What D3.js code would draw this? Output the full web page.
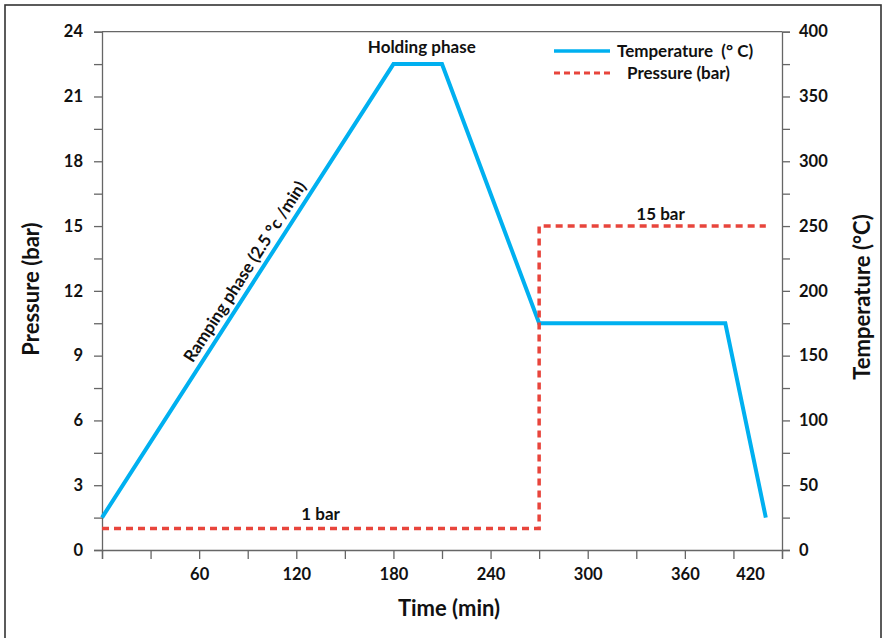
<!DOCTYPE html>
<html>
<head>
<meta charset="utf-8">
<script src="https://cdn.jsdelivr.net/npm/d3@7/dist/d3.min.js"></script>
<style>
  html, body { margin: 0; padding: 0; background: #fff; overflow: hidden; }
  svg { display: block; }
  text { font-family: Lato, "Open Sans", sans-serif; font-weight: 700; fill: #111; white-space: pre; }
</style>
</head>
<body>
<script>
// Process profile: temperature (right axis) and pressure (left axis) versus time
const tempTime   = [0, 180, 210, 270, 385, 410];
const tempValues = [25, 375, 375, 175, 175, 25];
const presTime   = [0, 270, 270, 410];
const presValues = [1, 1, 15, 15];
const timeTicks  = [0, 30, 60, 90, 120, 150, 180, 210, 240, 270, 300, 330, 360, 390, 420];
const timeLabels = [60, 120, 180, 240, 300, 360, 420];
const presTicks  = d3.range(0, 24.01, 1.5);
const presLabels = [0, 3, 6, 9, 12, 15, 18, 21, 24];
const tempTicks  = d3.range(0, 400.01, 25);
const tempLabels = [0, 50, 100, 150, 200, 250, 300, 350, 400];

const W = 884, H = 638;
const plotL = 102, plotR = 782, plotT = 31.7, plotB = 550;
const axisColor = "#666";
const blue = "#00b0f0", red = "#e8453c";
const labelSize = 17, titleSize = 22, tickSize = 16.5;

const svg = d3.select("body").append("svg").attr("width", W).attr("height", H);

// outer frame
svg.append("rect").attr("x", 5).attr("y", 5).attr("width", 876).attr("height", 640)
  .attr("fill", "none").attr("stroke", "#333").attr("stroke-width", 1.6);

const x = d3.scaleLinear().domain([0, 420]).range([plotL, plotR]);
const yP = d3.scaleLinear().domain([0, 24]).range([plotB, plotT]);
const yT = d3.scaleLinear().domain([0, 400]).range([plotB, plotT]);

// top border of plot area
svg.append("line").attr("x1", plotL).attr("x2", plotR).attr("y1", plotT).attr("y2", plotT)
  .attr("stroke", axisColor).attr("stroke-width", 1.3);

function styleAxis(g) {
  g.selectAll(".domain").attr("stroke", axisColor).attr("stroke-width", 1.3);
  g.selectAll(".tick line").attr("stroke", axisColor).attr("stroke-width", 1.3);
  g.selectAll(".tick text").attr("font-size", tickSize).attr("font-family", "Lato, 'Open Sans', sans-serif")
    .attr("font-weight", 700).attr("fill", "#111");
}

// bottom (time) axis
const gx = svg.append("g").attr("transform", `translate(0,${plotB})`)
  .call(d3.axisBottom(x).tickValues(timeTicks).tickSize(9).tickPadding(9)
    .tickFormat(d => timeLabels.includes(d) ? d : ""));
styleAxis(gx);
gx.selectAll(".tick text").filter(d => d === 420).attr("dx", -32);

// left (pressure) axis
const gl = svg.append("g").attr("transform", `translate(${plotL},0)`)
  .call(d3.axisLeft(yP).tickValues(presTicks).tickSize(8).tickPadding(11)
    .tickFormat(d => presLabels.includes(d) ? d : ""));
styleAxis(gl);

// right (temperature) axis
const gr = svg.append("g").attr("transform", `translate(${plotR},0)`)
  .call(d3.axisRight(yT).tickValues(tempTicks).tickSize(8).tickPadding(9)
    .tickFormat(d => tempLabels.includes(d) ? d : ""));
styleAxis(gr);

// series
const tempLine = d3.line().x((d, i) => x(tempTime[i])).y(d => yT(d));
svg.append("path").datum(tempValues).attr("d", tempLine)
  .attr("fill", "none").attr("stroke", blue).attr("stroke-width", 4).attr("stroke-linejoin", "miter");

const presLine = d3.line().x((d, i) => x(presTime[i])).y(d => yP(d));
svg.append("path").datum(presValues).attr("d", presLine)
  .attr("fill", "none").attr("stroke", red).attr("stroke-width", 3.5).attr("stroke-dasharray", "7,5");

// annotations
svg.append("text").attr("x", x(197.5)).attr("y", yT(375) - 11).attr("text-anchor", "middle")
  .attr("font-size", labelSize).text("Holding phase");
svg.append("text").attr("x", x(345)).attr("y", yP(15) - 6).attr("text-anchor", "middle")
  .attr("font-size", labelSize).text("15 bar");
svg.append("text").attr("x", x(135)).attr("y", yP(1) - 8).attr("text-anchor", "middle")
  .attr("font-size", labelSize).text("1 bar");

// label along the ramp
const p0 = [x(tempTime[0]), yT(tempValues[0])], p1 = [x(tempTime[1]), yT(tempValues[1])];
const ang = Math.atan2(p1[1] - p0[1], p1[0] - p0[0]) * 180 / Math.PI;
const mid = [p0[0] + (p1[0] - p0[0]) * 0.527, p0[1] + (p1[1] - p0[1]) * 0.527];
svg.append("text")
  .attr("transform", `translate(${mid[0]},${mid[1]}) rotate(${ang})`)
  .attr("y", -7).attr("text-anchor", "middle").attr("font-size", labelSize)
  .text("Ramping phase (2.5 °c /min)");

// axis titles
svg.append("text").attr("x", 449).attr("y", 616).attr("text-anchor", "middle")
  .attr("font-size", titleSize).text("Time (min)");
svg.append("text").attr("transform", `translate(39,289) rotate(-90)`)
  .attr("text-anchor", "middle").attr("font-size", titleSize).text("Pressure (bar)");
svg.append("text").attr("transform", `translate(870,297) rotate(-90)`)
  .attr("text-anchor", "middle").attr("font-size", titleSize).text("Temperature (°C)");

// legend
const lg = svg.append("g");
lg.append("line").attr("x1", 554).attr("x2", 610).attr("y1", 51).attr("y2", 51)
  .attr("stroke", blue).attr("stroke-width", 3.5);
lg.append("text").attr("x", 617).attr("y", 57).attr("font-size", labelSize).text("Temperature  (° C)");
lg.append("line").attr("x1", 554).attr("x2", 612).attr("y1", 73).attr("y2", 73)
  .attr("stroke", red).attr("stroke-width", 3).attr("stroke-dasharray", "6,4");
lg.append("text").attr("x", 627).attr("y", 79).attr("font-size", labelSize).text("Pressure (bar)");
</script>
</body>
</html>
